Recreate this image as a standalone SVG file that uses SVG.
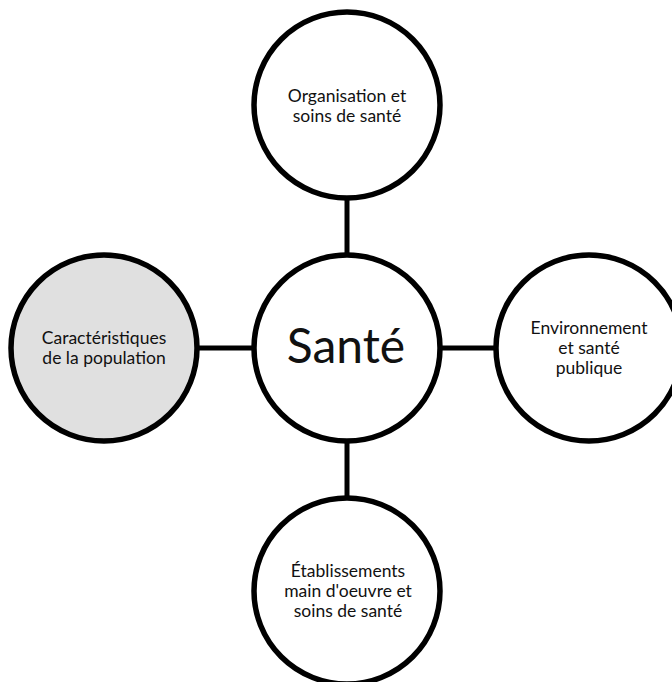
<svg xmlns="http://www.w3.org/2000/svg" width="672" height="682" viewBox="0 0 672 682">
<style>
.node{stroke:#000;stroke-width:5.5;fill:#fff}
.grey{fill:#e0e0e0}
.conn{stroke:#000;stroke-width:5;fill:none}
text{font-family:Lato,"Open Sans","Liberation Sans",sans-serif;fill:#111;text-anchor:middle}
.s{font-size:17.5px}
.big{font-size:48px}
</style>
<rect width="672" height="682" fill="#fff"/>
<g id="connectors">
<line class="conn" x1="347" y1="196" x2="347" y2="255"/>
<line class="conn" x1="197" y1="348" x2="254" y2="348"/>
<line class="conn" x1="440" y1="348" x2="496" y2="348"/>
<line class="conn" x1="347" y1="441" x2="347" y2="498"/>
</g>
<g id="top">
<circle class="node" cx="347" cy="105" r="93"/>
<text class="s" x="347" y="102">Organisation et</text>
<text class="s" x="347" y="122">soins de santé</text>
</g>
<g id="left">
<circle class="node grey" cx="104" cy="348" r="93"/>
<text class="s" x="104" y="344">Caractéristiques</text>
<text class="s" x="104" y="364">de la population</text>
</g>
<g id="center">
<circle class="node" cx="347" cy="348" r="93"/>
<text class="big" x="346" y="363">Santé</text>
</g>
<g id="right">
<circle class="node" cx="589" cy="348" r="93"/>
<text class="s" x="589" y="334">Environnement</text>
<text class="s" x="589" y="354">et santé</text>
<text class="s" x="589" y="374">publique</text>
</g>
<g id="bottom">
<circle class="node" cx="347" cy="591" r="93"/>
<text class="s" x="348" y="577">Établissements</text>
<text class="s" x="348" y="597">main d'oeuvre et</text>
<text class="s" x="348" y="617">soins de santé</text>
</g>
</svg>
